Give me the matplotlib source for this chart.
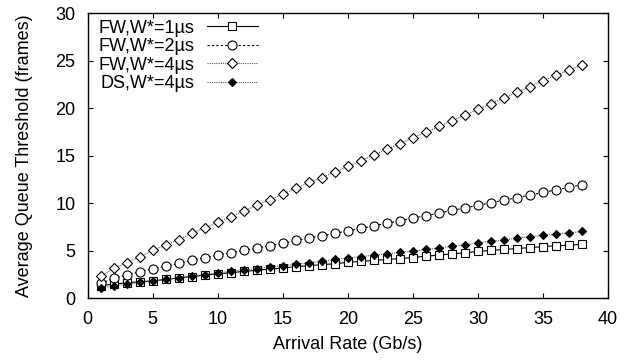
import matplotlib
matplotlib.use("Agg")
import matplotlib.pyplot as plt

plt.rcParams['font.family'] = ['Liberation Sans', 'DejaVu Sans']

rate = list(range(1, 39))

fw_1us = [1.35, 1.5, 1.65, 1.75, 1.85, 2.0, 2.15, 2.3, 2.45, 2.6,
          2.7, 2.85, 2.95, 3.1, 3.2, 3.35, 3.45, 3.55, 3.65, 3.8,
          3.9, 4.0, 4.1, 4.2, 4.3, 4.45, 4.55, 4.7, 4.8, 4.95,
          5.05, 5.15, 5.25, 5.35, 5.45, 5.55, 5.6, 5.7]

fw_2us = [1.6, 2.1, 2.5, 2.8, 3.1, 3.4, 3.7, 4.0, 4.3, 4.55,
          4.8, 5.05, 5.3, 5.55, 5.8, 6.1, 6.35, 6.6, 6.85, 7.1,
          7.37, 7.64, 7.91, 8.18, 8.45, 8.72, 8.99, 9.26, 9.53, 9.8,
          10.07, 10.34, 10.61, 10.88, 11.15, 11.42, 11.69, 11.96]

fw_4us = [2.35, 3.16, 3.75, 4.38, 5.08, 5.61, 6.2, 6.84, 7.43, 8.0,
          8.6, 9.19, 9.82, 10.4, 10.98, 11.58, 12.2, 12.7, 13.3, 13.9,
          14.5, 15.1, 15.7, 16.3, 16.9, 17.5, 18.1, 18.7, 19.3, 19.9,
          20.5, 21.1, 21.7, 22.3, 22.9, 23.5, 24.0, 24.6]

ds_4us = [1.1, 1.3, 1.5, 1.7, 1.85, 2.0, 2.2, 2.35, 2.5, 2.7,
          2.85, 3.0, 3.15, 3.3, 3.45, 3.6, 3.75, 3.9, 4.1, 4.25,
          4.4, 4.55, 4.7, 4.85, 5.0, 5.15, 5.3, 5.5, 5.65, 5.85,
          6.0, 6.15, 6.35, 6.5, 6.65, 6.75, 6.9, 7.05]

labels = ["FW,W*=1\u00b5s", "FW,W*=2\u00b5s", "FW,W*=4\u00b5s", "DS,W*=4\u00b5s"]
x_ticks = [0, 5, 10, 15, 20, 25, 30, 35, 40]
y_ticks = [0, 5, 10, 15, 20, 25, 30]

fig = plt.figure(figsize=(6.36, 3.6), dpi=100)
ax = fig.add_axes([0.138, 0.171, 0.818, 0.792])

ax.plot(rate, fw_1us, color='black', lw=0.8, ls='-', marker='s', ms=6,
        mfc='white', mec='black', mew=0.8, label=labels[0])
ax.plot(rate, fw_2us, color='black', lw=0.8, ls=(0, (2, 2)), marker='o', ms=6.5,
        mfc='white', mec='black', mew=0.8, label=labels[1])
ax.plot(rate, fw_4us, color='#555555', lw=0.8, ls=(0, (1, 1)), marker='D', ms=5,
        mfc='white', mec='black', mew=0.8, label=labels[2])
ax.plot(rate, ds_4us, color='#555555', lw=0.8, ls=(0, (1, 1)), marker='D', ms=4.5,
        mfc='black', mec='black', mew=0.8, label=labels[3])

ax.set_xlim(0, 40)
ax.set_ylim(0, 30)
ax.set_xticks(x_ticks)
ax.set_yticks(y_ticks)
ax.tick_params(axis='both', direction='in', length=3.5, width=0.8, top=True, right=True,
               labelsize=13)
ax.tick_params(axis='y', pad=9)
ax.tick_params(axis='x', pad=9)
for s in ax.spines.values():
    s.set_linewidth(1.0)

ax.set_xlabel("Arrival Rate (Gb/s)", fontsize=13, labelpad=6)
ax.set_ylabel("Average Queue Threshold (frames)", fontsize=13, labelpad=16)

leg = ax.legend(loc='upper left', frameon=False, markerfirst=False,
                fontsize=13, handlelength=2.8, handletextpad=0.7,
                labelspacing=0.08, borderaxespad=0.0, borderpad=0.2,
                bbox_to_anchor=(0.014, 0.99))

fig.savefig("out.png", dpi=100)
